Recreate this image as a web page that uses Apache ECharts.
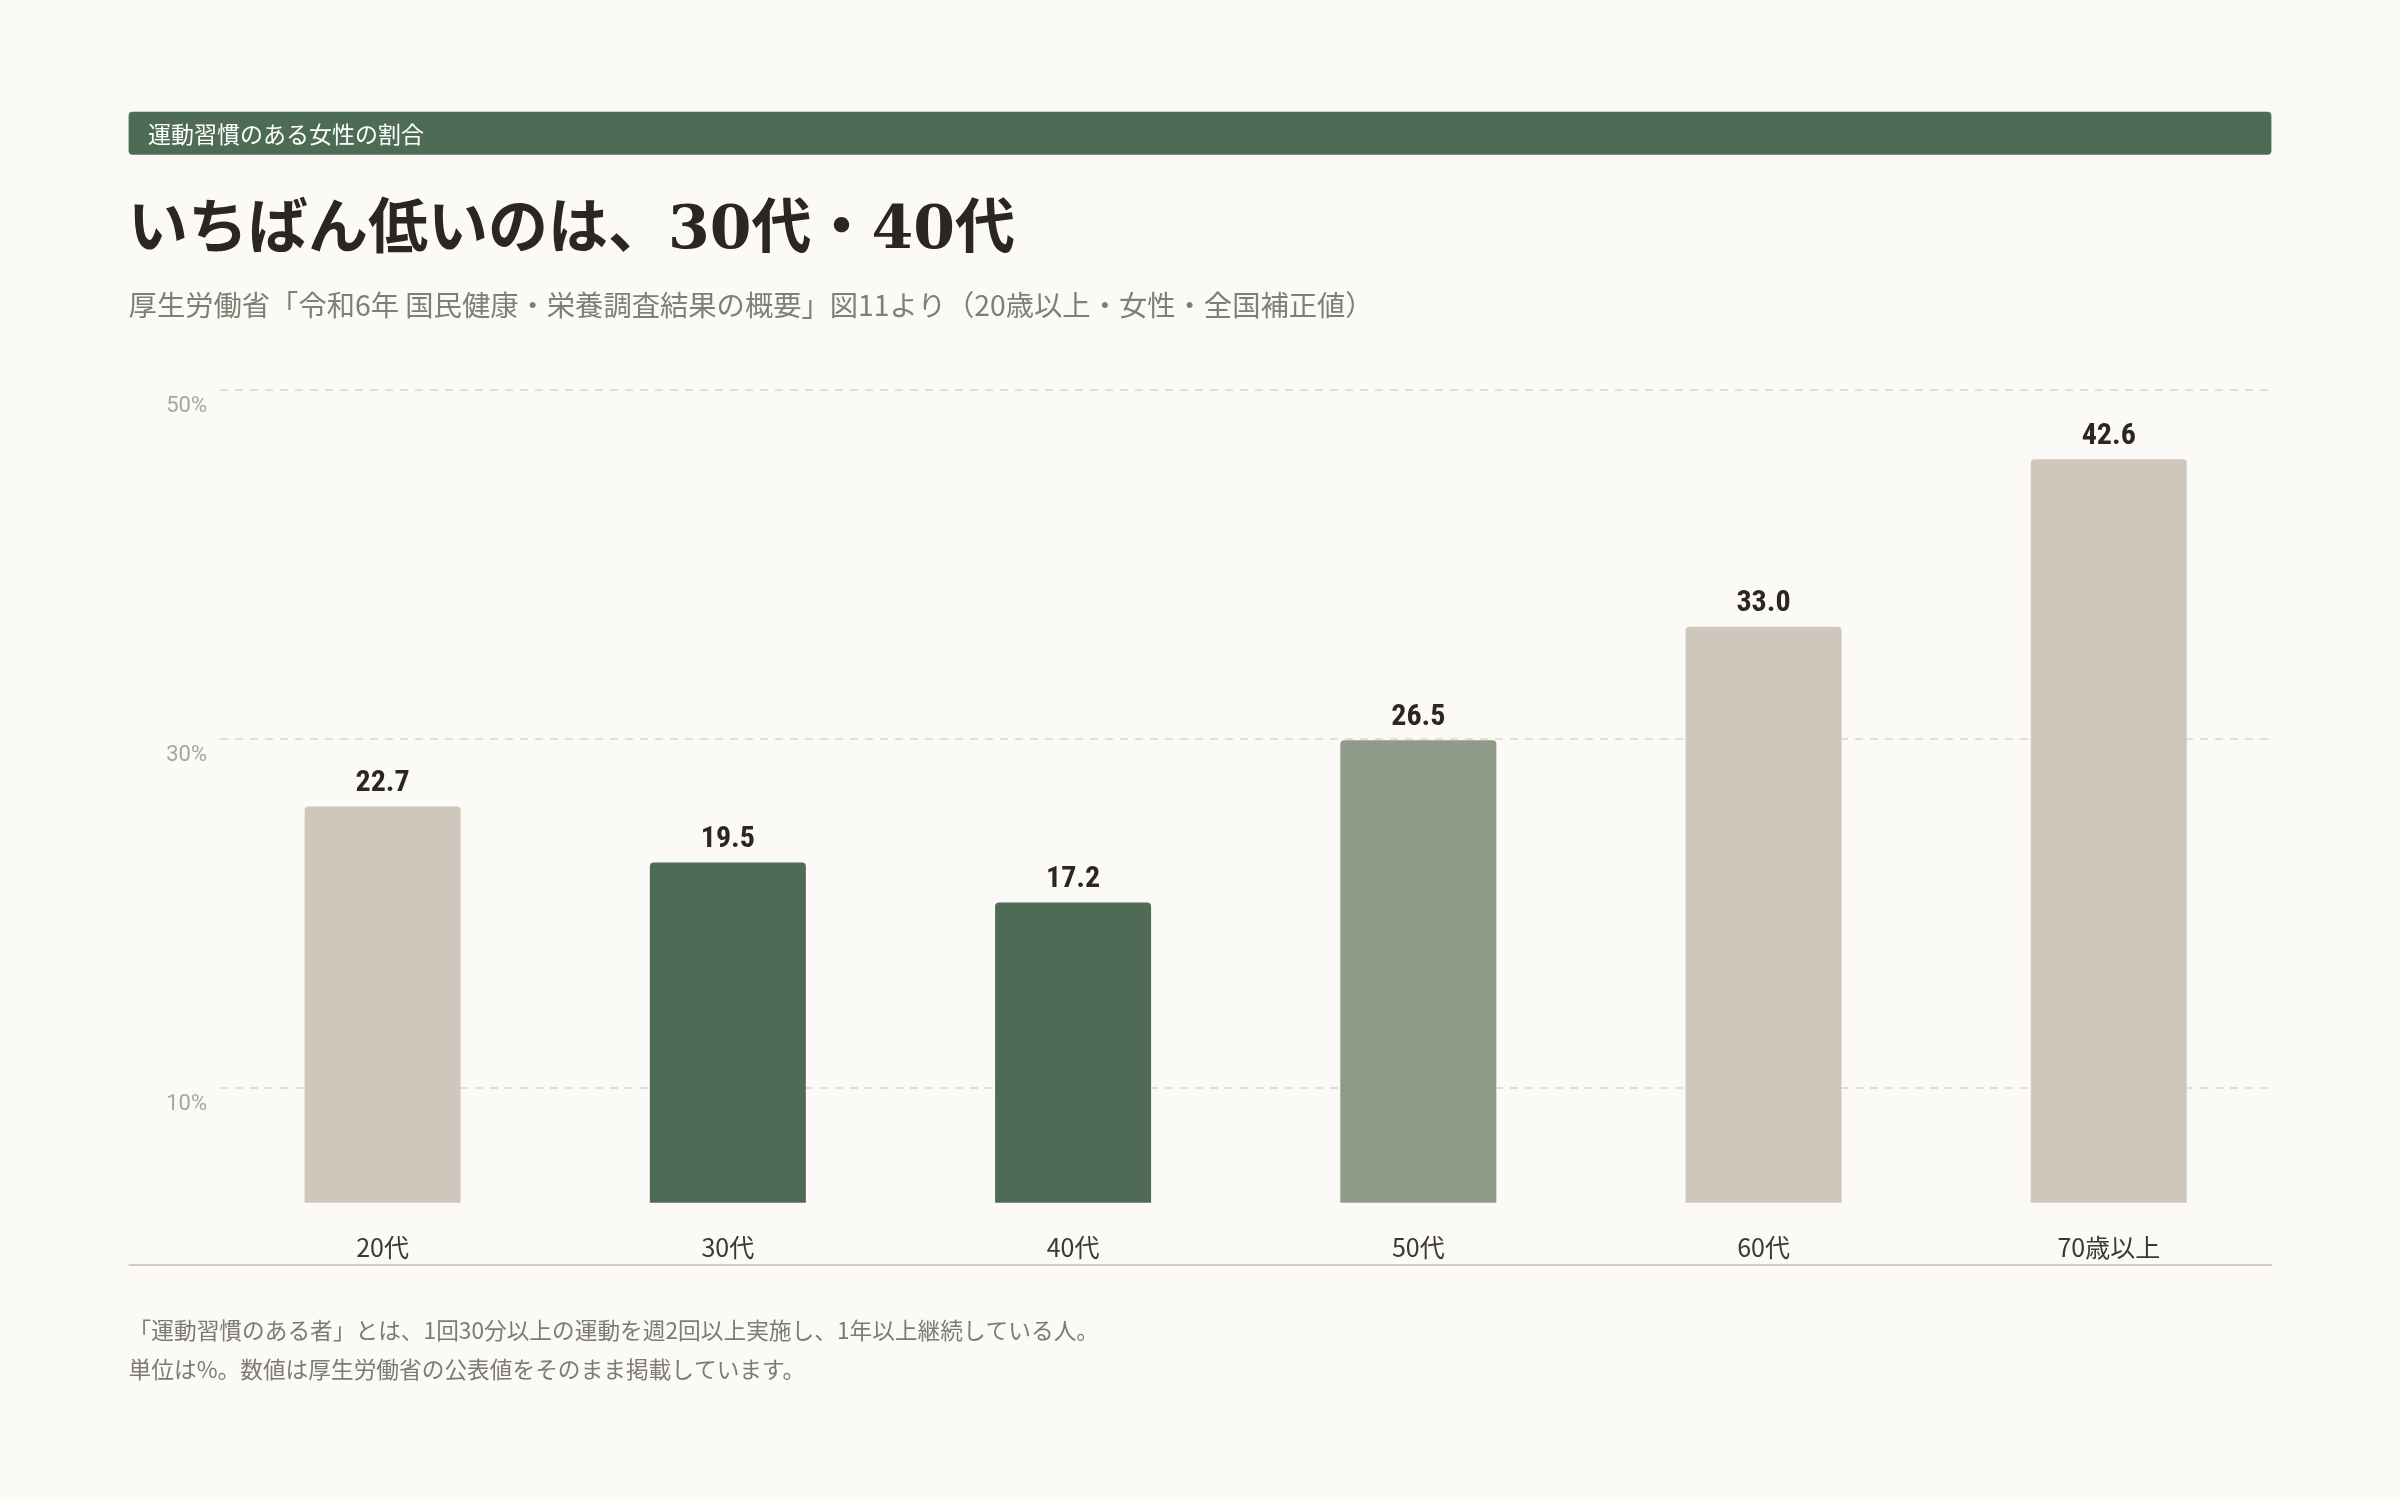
<!DOCTYPE html>
<html>
<head>
<meta charset="utf-8">
<script src="https://cdn.jsdelivr.net/npm/echarts@6/dist/echarts.min.js"></script>
<style>
html,body{margin:0;padding:0;background:#FBFAF6;}
#chart{width:2400px;height:1500px;}
</style>
</head>
<body>
<div id="chart"></div>
<script>
// ---- data ----
const categories = ['20代', '30代', '40代', '50代', '60代', '70歳以上'];
const values = [22.7, 19.5, 17.2, 26.5, 33.0, 42.6];
const yTickValues = [10, 30, 50];
const barColors = ['#CFC7BB', '#4F6B56', '#4F6B56', '#8F9A88', '#CFC7BB', '#CFC7BB'];

const bannerText = '運動習慣のある女性の割合';
const titleText = 'いちばん低いのは、30代・40代';
const subtitleText = '厚生労働省「令和6年 国民健康・栄養調査結果の概要」図11より（20歳以上・女性・全国補正値）';
const noteLines = [
  '「運動習慣のある者」とは、1回30分以上の運動を週2回以上実施し、1年以上継続している人。',
  '単位は%。数値は厚生労働省の公表値をそのまま掲載しています。'
];

const chart = echarts.init(document.getElementById('chart'), null, {renderer: 'canvas'});
const numFont = "'Liberation Sans Narrow', 'Roboto Condensed', 'Roboto', sans-serif";
const jpFont = "'Noto Sans CJK JP', 'Noto Sans', sans-serif";

const option = {
  backgroundColor: '#FBFAF6',
  animation: false,
  grid: [
    {left: 210, right: 118.6, top: 389.5, bottom: 297.3},
    {left: 220, right: 128.3, top: 389.5, bottom: 297.3}
  ],
  xAxis: [
    {
      type: 'category', gridIndex: 0, data: categories,
      axisLine: {show: false}, axisTick: {show: false},
      axisLabel: {margin: 32, fontSize: 25, color: '#3C3833', fontFamily: jpFont}
    },
    {type: 'value', gridIndex: 1, show: false, min: 0, max: 1}
  ],
  yAxis: [
    {type: 'value', gridIndex: 0, min: 0, max: 46.6, show: false, splitLine: {show: false}},
    {
      type: 'value', gridIndex: 1, min: 3.4, max: 50,
      axisLine: {show: false},
      axisTick: {show: false, customValues: yTickValues},
      axisLabel: {
        customValues: yTickValues,
        formatter: v => v + '%',
        fontSize: 22, color: '#A3A89C', fontFamily: "'Roboto', sans-serif",
        margin: 13, verticalAlign: 'top', padding: [6, 0, 0, 0]
      },
      splitLine: {show: true, lineStyle: {color: '#E3DED4', type: [8, 7], width: 2}}
    }
  ],
  series: [{
    type: 'bar',
    xAxisIndex: 0, yAxisIndex: 0,
    data: values.map((v, i) => ({value: v, itemStyle: {color: barColors[i]}})),
    barWidth: 156,
    itemStyle: {borderRadius: [4, 4, 0, 0]},
    label: {
      show: true, position: 'top', distance: 8,
      formatter: p => p.value.toFixed(1),
      fontSize: 30, fontWeight: 'bold', color: '#2B2623', fontFamily: numFont
    }
  }],
  graphic: [
    {type: 'rect', shape: {x: 128.6, y: 111.7, width: 2142.8, height: 43, r: 4}, style: {fill: '#4E6B55'}},
    {type: 'text', x: 148, y: 134, style: {text: bannerText, fill: '#FFFFFF', fontSize: 23, fontFamily: jpFont, verticalAlign: 'middle'}},
    {type: 'text', x: 128, y: 232, style: {text: titleText, fill: '#2B2623', fontSize: 60, fontWeight: 'bold', fontFamily: "'DejaVu Serif', 'Noto Sans CJK JP', serif", verticalAlign: 'middle'}},
    {type: 'text', x: 128.6, y: 305, style: {text: subtitleText, fill: '#7F7F73', fontSize: 28.3, fontFamily: jpFont, verticalAlign: 'middle'}},
    {type: 'line', shape: {x1: 128.6, y1: 1265, x2: 2271.7, y2: 1265}, style: {stroke: '#D2CBBE', lineWidth: 2}},
    {type: 'text', x: 128.6, y: 1330, style: {text: noteLines[0], fill: '#7D7B71', fontSize: 22.7, fontFamily: jpFont, verticalAlign: 'middle'}},
    {type: 'text', x: 128.6, y: 1369, style: {text: noteLines[1], fill: '#7D7B71', fontSize: 22.7, fontFamily: jpFont, verticalAlign: 'middle'}}
  ]
};
chart.setOption(option);
</script>
</body>
</html>
